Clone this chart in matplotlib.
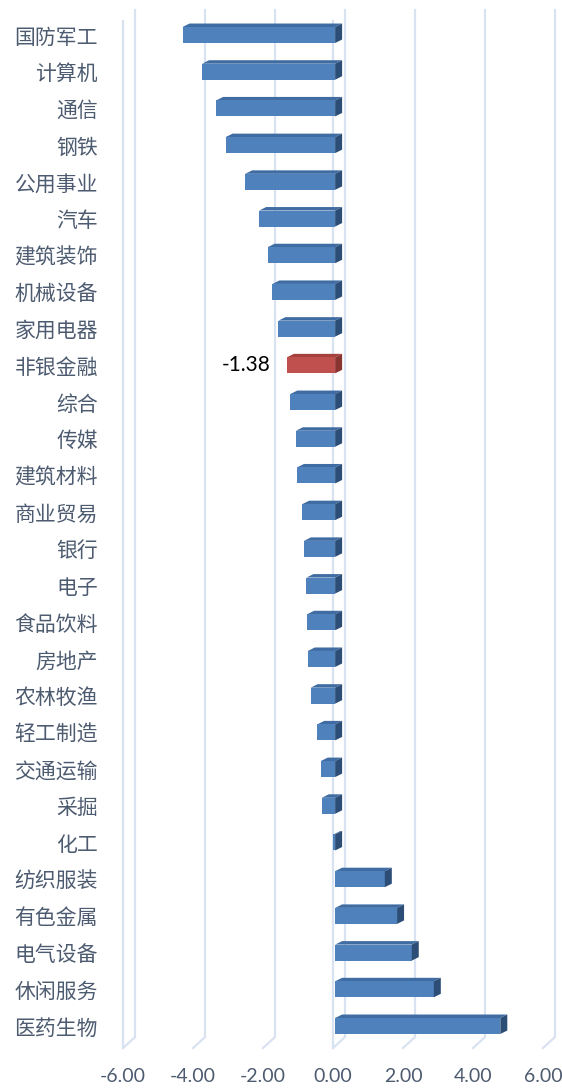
import numpy as np
import matplotlib
matplotlib.use('Agg')
import matplotlib.pyplot as plt
from matplotlib.patches import Polygon, Rectangle

plt.rcParams['font.family'] = ['Noto Sans CJK SC', 'DejaVu Sans']

# industries, top to bottom
categories = ['国防军工', '计算机', '通信', '钢铁', '公用事业', '汽车', '建筑装饰',
              '机械设备', '家用电器', '非银金融', '综合', '传媒', '建筑材料', '商业贸易',
              '银行', '电子', '食品饮料', '房地产', '农林牧渔', '轻工制造', '交通运输',
              '采掘', '化工', '纺织服装', '有色金属', '电气设备', '休闲服务', '医药生物']
values = [-4.36, -3.80, -3.40, -3.13, -2.57, -2.17, -1.93,
          -1.79, -1.62, -1.38, -1.28, -1.12, -1.09, -0.94,
          -0.89, -0.82, -0.80, -0.78, -0.70, -0.51, -0.41,
          -0.38, -0.05, 1.42, 1.77, 2.19, 2.82, 4.72]
highlight = '非银金融'
xticks = [-6, -4, -2, 0, 2, 4, 6]

blue = ('#4f81bd', '#3f6ca3', '#2c4d75')   # front, top, side
red = ('#c0504d', '#a5403d', '#8a3432')
grid_c = '#d9e2f1'
text_c = '#4d5b70'

fig = plt.figure(figsize=(5.62, 10.89), dpi=100)
ax = fig.add_axes([0.2189, 0.041, 0.7473, 0.9437])
ax.set_xlim(-6, 6)
ax.set_ylim(len(categories) - 0.5, -0.5)
for s in ax.spines.values():
    s.set_visible(False)

# back wall gridlines + floor slant, front edges
gdx, gdy = 0.343, 0.30
for v in xticks:
    ax.plot([v + gdx, v + gdx, v], [-0.68, 27.3, 27.6], color=grid_c, lw=1.6,
            clip_on=False, zorder=1)
for v in [-6, 0]:
    ax.plot([v, v], [-0.38, 27.6], color=grid_c, lw=1.6, clip_on=False, zorder=1)

# pseudo 3d bars, sitting a little behind the front plane
h = 0.218
bdx, bdy = 0.2, 0.095
off = 0.06
for i, (c, v) in enumerate(zip(categories, values)):
    front, top, side = red if c == highlight else blue
    x0, x1 = min(0, v) + off, max(0, v) + off
    ax.add_patch(Polygon([(x0, i - h), (x1, i - h), (x1 + bdx, i - h - bdy),
                          (x0 + bdx, i - h - bdy)], closed=True, fc=top, ec='none', zorder=3))
    ax.add_patch(Rectangle((x0, i - h), x1 - x0, 2 * h, fc=front, ec='none', zorder=4))
    ax.add_patch(Polygon([(x1, i - h), (x1 + bdx, i - h - bdy), (x1 + bdx, i + h - bdy),
                          (x1, i + h)], closed=True, fc=side, ec='none', zorder=4))
    if c == highlight:
        ax.annotate(f'{v:.2f}', xy=(x0, i), xytext=(-16, 0), textcoords='offset pixels',
                    ha='right', va='center', fontsize=15, color='black', family='Lato')

ax.set_yticks(range(len(categories)))
ax.set_yticklabels(categories, fontsize=15, color=text_c)
ax.tick_params(axis='y', length=0, pad=18)

ax.set_xticks(xticks)
ax.set_xticklabels([f'{v:.2f}' for v in xticks], fontsize=14, color=text_c, family='Lato')
ax.tick_params(axis='x', length=0, pad=17)

fig.savefig('out.png', dpi=100)
plt.close()
